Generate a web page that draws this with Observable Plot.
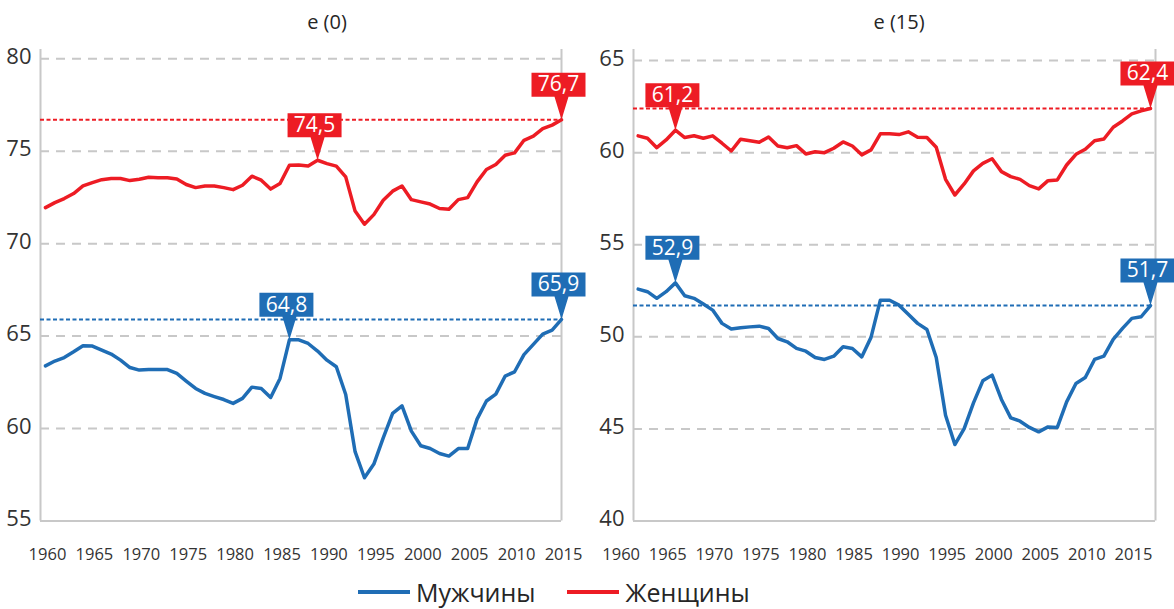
<!DOCTYPE html>
<html>
<head>
<meta charset="utf-8">
<script src="https://cdn.jsdelivr.net/npm/d3@7"></script>
<script src="https://cdn.jsdelivr.net/npm/@observablehq/plot@0.6"></script>
<style>
  html, body { margin: 0; padding: 0; background: #fff; }
  body { width: 1174px; height: 609px; overflow: hidden; font-family: "Open Sans", "Noto Sans", sans-serif; color: #262626; }
  #row { display: flex; }
  .panel { width: 587px; }
  .title { position: relative; height: 40px; }
  .title span { position: absolute; top: 0; line-height: 44px; font-size: 20px; transform: translateX(-50%); white-space: nowrap; color: #262626; }
  #legend { display: flex; align-items: center; height: 44px; padding-left: 358px; font-size: 25px; color: #262626; }
  .sw { display: inline-block; width: 52px; height: 4px; margin-right: 6px; }
  .item { display: flex; align-items: center; margin-right: 32px; }
</style>
</head>
<body>
<div id="row">
  <div class="panel" id="p0"><div class="title"><span style="left:327px">e (0)</span></div></div>
  <div class="panel" id="p1"><div class="title"><span style="left:312px">e (15)</span></div></div>
</div>
<div id="legend"></div>
<script>
// ---- data ----
const years = d3.range(1960, 2016);
const xTickYears = [1960, 1965, 1970, 1975, 1980, 1985, 1990, 1995, 2000, 2005, 2010, 2015];

const seriesNames = ["Мужчины", "Женщины"];
const seriesColors = ["#1f6db5", "#ed1c24"];

// e(0)
const maleE0 = [63.39,63.65,63.84,64.15,64.48,64.46,64.24,64.03,63.70,63.30,
  63.16,63.19,63.19,63.19,62.98,62.57,62.17,61.90,61.73,61.57,
  61.36,61.63,62.24,62.17,61.68,62.71,64.80,64.80,64.60,64.19,
  63.70,63.34,61.84,58.75,57.34,58.08,59.50,60.82,61.23,59.86,
  59.07,58.92,58.65,58.51,58.92,58.92,60.51,61.49,61.86,62.84,
  63.07,64.00,64.55,65.11,65.32,65.90];
const femaleE0 = [71.95,72.22,72.44,72.71,73.12,73.30,73.46,73.52,73.52,73.41,
  73.48,73.59,73.57,73.56,73.50,73.20,73.03,73.12,73.12,73.03,
  72.92,73.16,73.65,73.43,72.95,73.25,74.24,74.25,74.20,74.51,
  74.33,74.19,73.61,71.76,71.05,71.57,72.35,72.84,73.12,72.38,
  72.26,72.14,71.90,71.86,72.38,72.49,73.34,74.01,74.28,74.78,
  74.91,75.59,75.81,76.22,76.41,76.70];

// e(15)
const maleE15 = [52.59,52.45,52.09,52.45,52.93,52.23,52.09,51.78,51.45,50.73,
  50.42,50.49,50.54,50.58,50.45,49.91,49.73,49.37,49.22,48.88,
  48.77,48.95,49.46,49.37,48.91,49.97,51.99,51.99,51.72,51.22,
  50.73,50.40,48.88,45.74,44.15,45.02,46.41,47.61,47.92,46.60,
  45.60,45.42,45.08,44.84,45.11,45.08,46.47,47.47,47.79,48.77,
  48.95,49.86,50.46,51.00,51.09,51.70];
const femaleE15 = [60.91,60.78,60.27,60.69,61.22,60.82,60.92,60.78,60.91,60.51,
  60.09,60.73,60.65,60.56,60.85,60.36,60.27,60.38,59.93,60.05,
  60.00,60.24,60.58,60.36,59.88,60.15,61.02,61.02,60.98,61.13,
  60.84,60.82,60.29,58.55,57.70,58.30,59.01,59.42,59.67,58.97,
  58.70,58.55,58.21,58.03,58.48,58.52,59.33,59.91,60.18,60.65,
  60.74,61.38,61.72,62.10,62.27,62.40];

// callout years per panel: [male, female]
const calloutYearsE0 = [[1986, 2015], [1989, 2015]];
const calloutYearsE15 = [[1964, 2015], [1964, 2015]];

const yTicksE0 = [55, 60, 65, 70, 75, 80];
const yTicksE15 = [40, 45, 50, 55, 60, 65];

// ---- drawing ----
const calloutSymbol = {
  draw(ctx) {
    ctx.moveTo(-30, -47);
    ctx.lineTo(24, -47);
    ctx.lineTo(24, -23);
    ctx.lineTo(7, -23);
    ctx.lineTo(0, 0);
    ctx.lineTo(-7, -23);
    ctx.lineTo(-30, -23);
    ctx.closePath();
  }
};
const fmt = v => v.toFixed(1).replace(".", ",");

function panel({series, calloutYears, yDomain, yTicks, xDomain, marginLeft, marginRight, tickDx}) {
  const rows = [];
  series.forEach((vals, s) => years.forEach((yr, i) => rows.push({year: yr, value: vals[i], s})));
  const callouts = [];
  calloutYears.forEach((ys, s) => ys.forEach(yr => callouts.push({year: yr, value: series[s][years.indexOf(yr)], s})));
  const lastVals = series.map((vals, s) => ({value: vals[vals.length - 1], s}));
  const lastYear = years[years.length - 1];
  const color = d => seriesColors[d.s];
  return Plot.plot({
    width: 587,
    height: 530,
    marginTop: 9,
    marginBottom: 49.5,
    marginLeft,
    marginRight,
    x: {domain: xDomain},
    y: {domain: yDomain},
    style: {fontFamily: "'Open Sans', 'Noto Sans', sans-serif", background: "transparent", overflow: "visible", color: "#333333"},
    marks: [
      Plot.gridY(yTicks.slice(1), {stroke: "#c8c8c8", strokeOpacity: 1, strokeWidth: 2, strokeDasharray: "9,7"}),
      Plot.ruleX([xDomain[0], xDomain[1]], {stroke: "#c8c8c8", strokeWidth: 2}),
      Plot.ruleY([yDomain[0]], {stroke: "#c8c8c8", strokeWidth: 2}),
      Plot.axisY(yTicks, {tickSize: 0, tickPadding: 9, fontSize: 22, dy: -2, color: "#333333", label: null}),
      Plot.axisX(xTickYears, {tickSize: 0, tickPadding: 27, fontSize: 16.5, dx: tickDx, tickFormat: d => String(d), color: "#333333", label: null}),
      Plot.ruleY(lastVals, {y: "value", x1: xDomain[0], x2: lastYear, stroke: color, strokeWidth: 2, strokeDasharray: "4,2.5"}),
      Plot.line(rows, {x: "year", y: "value", z: "s", stroke: color, strokeWidth: 3.5, strokeLinejoin: "round", strokeLinecap: "round"}),
      Plot.dot(callouts, {x: "year", y: "value", symbol: calloutSymbol, fill: color, stroke: "none", r: 5}),
      Plot.text(callouts, {x: "year", y: "value", text: d => fmt(d.value), dx: -3, dy: -35, fill: "white", fontSize: 21})
    ]
  });
}

document.getElementById("p0").appendChild(panel({
  series: [maleE0, femaleE0],
  calloutYears: calloutYearsE0,
  yDomain: [55, 80.5],
  yTicks: yTicksE0,
  xDomain: [1959.47, 2015],
  marginLeft: 40,
  marginRight: 26,
  tickDx: 2
}));
document.getElementById("p1").appendChild(panel({
  series: [maleE15, femaleE15],
  calloutYears: calloutYearsE15,
  yDomain: [40, 65.6],
  yTicks: yTicksE15,
  xDomain: [1959.5, 2015.54],
  marginLeft: 46,
  marginRight: 19,
  tickDx: -17
}));

const legend = document.getElementById("legend");
seriesNames.forEach((name, i) => {
  const item = document.createElement("div");
  item.className = "item";
  const sw = document.createElement("span");
  sw.className = "sw";
  sw.style.background = seriesColors[i];
  const t = document.createElement("span");
  t.textContent = name;
  item.appendChild(sw);
  item.appendChild(t);
  legend.appendChild(item);
});
</script>
</body>
</html>
